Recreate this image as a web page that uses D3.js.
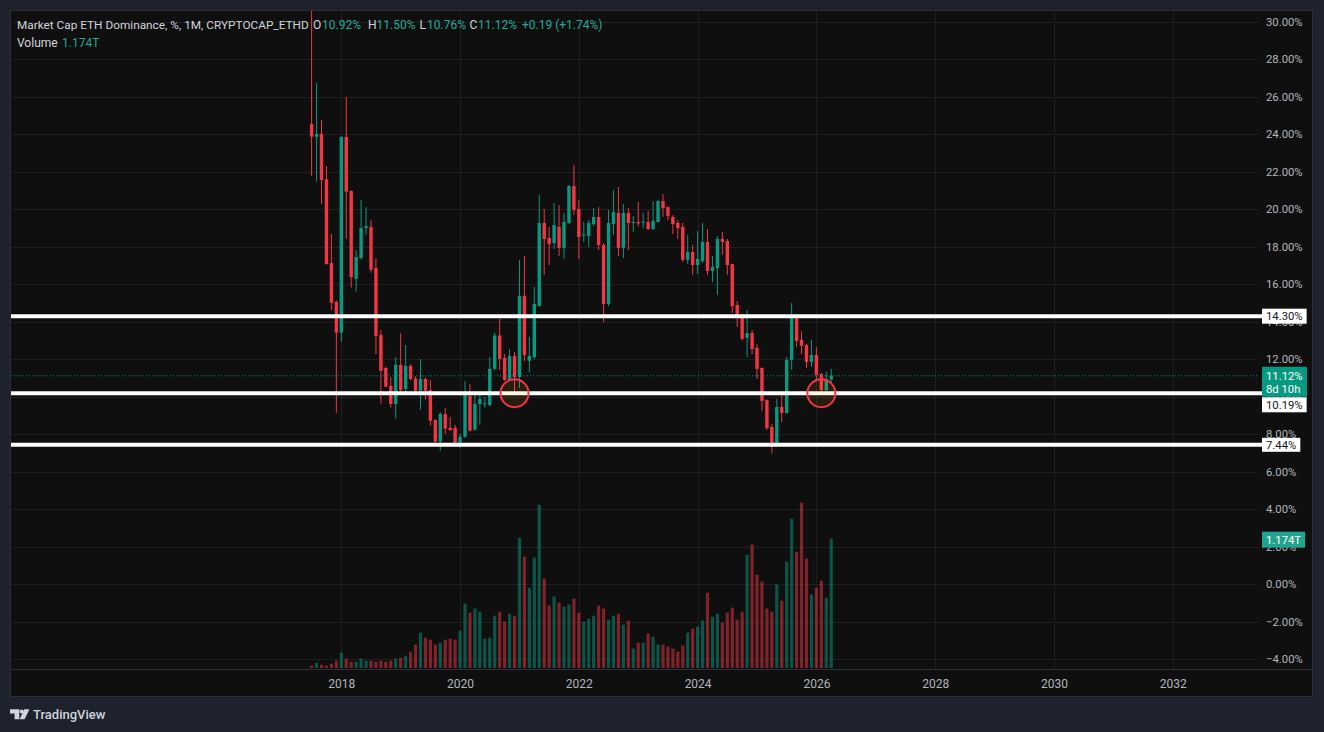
<!DOCTYPE html>
<html><head><meta charset="utf-8">
<script src="https://cdn.jsdelivr.net/npm/d3@7"></script>
<style>
html,body{margin:0;padding:0;background:#1e222d;overflow:hidden;}
svg{display:block;}
text{font-family:Roboto,"Noto Sans",Arial,sans-serif;}
</style></head><body>
<svg id="c" width="1324" height="732"></svg>
<script>
// ---- DATA ----
const months = [
 "2017-07","2017-08","2017-09","2017-10","2017-11","2017-12",
 "2018-01","2018-02","2018-03","2018-04","2018-05","2018-06","2018-07","2018-08","2018-09","2018-10","2018-11","2018-12",
 "2019-01","2019-02","2019-03","2019-04","2019-05","2019-06","2019-07","2019-08","2019-09","2019-10","2019-11","2019-12",
 "2020-01","2020-02","2020-03","2020-04","2020-05","2020-06","2020-07","2020-08","2020-09","2020-10","2020-11","2020-12",
 "2021-01","2021-02","2021-03","2021-04","2021-05","2021-06","2021-07","2021-08","2021-09","2021-10","2021-11","2021-12",
 "2022-01","2022-02","2022-03","2022-04","2022-05","2022-06","2022-07","2022-08","2022-09","2022-10","2022-11","2022-12",
 "2023-01","2023-02","2023-03","2023-04","2023-05","2023-06","2023-07","2023-08","2023-09","2023-10","2023-11","2023-12",
 "2024-01","2024-02","2024-03","2024-04","2024-05","2024-06","2024-07","2024-08","2024-09","2024-10","2024-11","2024-12",
 "2025-01","2025-02","2025-03","2025-04","2025-05","2025-06","2025-07","2025-08","2025-09","2025-10","2025-11","2025-12",
 "2026-01","2026-02","2026-03","2026-04"
];
const openV = [
 24.55,23.87,24.02,21.60,17.14,15.06,
 13.42,23.86,20.98,16.30,17.40,19.00,19.06,16.87,13.30,11.54,10.58,9.62,
 11.70,10.42,11.65,10.97,10.33,10.95,10.36,8.76,7.61,9.08,8.35,8.35,
 7.55,7.87,10.04,8.25,9.62,9.60,9.56,11.49,13.27,12.07,10.90,12.18,
 11.06,15.38,11.92,12.12,14.84,19.27,18.47,18.20,19.06,17.94,19.27,21.24,
 20.02,18.60,18.58,19.21,19.59,18.10,14.95,19.21,19.80,17.94,19.80,19.27,
 19.32,19.28,19.32,18.95,19.32,20.44,20.12,19.59,19.27,19.06,17.30,17.72,
 17.03,17.24,18.26,16.71,16.87,18.42,18.31,17.08,14.90,14.37,13.14,13.40,
 12.61,11.54,9.83,8.39,7.43,9.46,9.14,11.97,14.31,13.04,12.77,11.86,
 12.23,11.22,10.36,10.92
];
const highV = [
 30.80,26.74,24.76,22.31,18.68,15.13,
 23.90,25.99,21.00,17.83,20.50,20.12,19.43,17.40,13.56,11.60,11.06,12.12,
 13.39,12.76,11.75,11.10,12.01,11.03,10.90,8.80,9.19,9.40,8.92,8.51,
 8.03,10.84,10.69,10.20,10.20,9.99,12.12,13.42,14.15,12.28,12.54,12.39,
 17.30,17.51,13.20,15.86,20.76,20.02,19.06,20.34,20.23,19.80,21.30,22.37,
 20.50,19.32,19.43,20.07,20.12,18.20,19.96,21.03,21.19,20.28,20.07,19.64,
 20.39,19.80,19.91,20.44,20.50,20.82,20.15,19.70,19.43,19.27,18.63,18.10,
 18.84,19.27,18.95,17.51,18.58,18.79,18.42,17.10,15.11,14.42,14.63,13.56,
 12.80,11.56,9.86,8.55,9.88,10.15,12.12,15.00,14.35,13.50,12.80,13.04,
 12.66,11.28,11.33,11.50
];
const lowV = [
 21.79,21.47,20.28,17.05,14.63,9.15,
 12.94,18.42,15.82,15.61,17.33,18.65,16.62,12.28,9.63,10.50,9.42,8.83,
 10.22,10.22,10.90,10.10,9.31,9.85,8.46,7.50,7.12,8.03,8.19,7.34,
 7.29,7.80,8.14,8.19,8.51,9.42,9.50,11.44,11.44,10.85,10.85,10.10,
 10.47,11.91,11.30,12.00,14.80,16.50,17.03,17.88,17.51,17.35,19.20,19.70,
 17.35,18.26,17.99,19.10,17.83,13.99,14.84,18.63,17.51,17.40,17.83,18.79,
 19.10,19.00,18.90,18.90,19.30,19.59,19.43,18.68,18.42,17.20,17.08,16.50,
 16.55,17.14,16.50,16.12,15.43,17.56,16.50,14.47,13.72,13.00,12.12,12.28,
 10.95,9.24,8.23,6.99,7.40,8.65,9.10,11.44,12.66,12.28,11.54,11.60,
 10.90,10.15,10.31,10.76
];
const closeV = [
 23.87,24.02,21.56,17.08,15.02,13.42,
 23.86,20.94,16.39,17.45,19.00,19.10,16.78,13.24,11.39,10.54,9.62,11.70,
 10.36,11.65,10.95,10.33,10.95,10.33,8.73,7.61,9.08,8.30,8.22,7.55,
 7.87,10.10,8.20,9.62,9.88,9.65,11.49,13.27,12.02,10.90,12.18,11.06,
 15.38,12.22,12.18,14.95,19.27,18.42,18.15,19.16,17.94,19.32,21.24,19.96,
 18.52,18.65,19.27,19.59,18.10,14.95,19.27,19.86,17.94,19.80,19.27,19.32,
 19.25,19.34,18.95,19.38,20.44,20.07,19.64,19.21,19.00,17.30,17.72,17.03,
 17.35,18.26,16.71,16.92,18.42,18.26,17.03,14.84,14.31,13.09,13.40,12.55,
 11.49,9.78,8.33,7.43,9.46,9.14,11.97,14.31,12.98,12.72,11.86,12.23,
 11.17,10.36,10.93,11.12
];
// volume in trillions
const volumeT = [
 0.021,0.048,0.030,0.021,0.039,0.067,
 0.139,0.085,0.057,0.057,0.085,0.067,0.067,0.057,0.067,0.057,0.067,0.085,
 0.094,0.112,0.148,0.212,0.321,0.275,0.257,0.212,0.230,0.257,0.266,0.257,
 0.339,0.584,0.502,0.539,0.511,0.266,0.275,0.475,0.511,0.421,0.493,0.475,
 1.183,1.011,0.729,1.002,1.483,0.811,0.566,0.648,0.593,0.557,0.575,0.629,
 0.502,0.421,0.448,0.475,0.566,0.539,0.439,0.475,0.493,0.393,0.430,0.176,
 0.230,0.230,0.312,0.284,0.212,0.212,0.194,0.176,0.148,0.203,0.321,0.357,
 0.375,0.430,0.684,0.466,0.493,0.412,0.502,0.548,0.439,0.511,1.029,1.120,
 0.847,0.784,0.539,0.511,0.757,0.611,0.965,1.356,1.056,1.501,0.993,0.666,
 0.729,0.793,0.638,1.174
];
const yearTicks = ["2018","2020","2022","2024","2026","2028","2030","2032"];
const priceTicks = [-4,-2,0,2,4,6,8,10,12,14,16,18,20,22,24,26,28,30];
const levels = [14.30, 10.19, 7.44];
const circleMonths = ["2020-12","2026-02"];
const circlePrice = 10.19;
const lastPrice = 11.12;
const lastVolume = 1.174;

// ---- LAYOUT ----
const pane = {l:10, t:10, r:1313, b:697};
const plotR = 1258, axisY = 669;
const GREEN = "#089981", RED = "#f23645";

const svg = d3.select("#c");

const idx = m => { const [yy, mo] = m.split("-").map(Number); return (yy - 2017) * 12 + (mo - 7); };

const x = d3.scaleLinear().domain([idx("2018-01"), idx("2032-01")]).range([341.3, 1172.7]);
const y = d3.scaleLinear().domain([-4, 30]).range([659.3, 21.8]);
const yv = d3.scaleLinear().domain([0, lastVolume]).range([668, 538.7]);

const bars = months.map((m, i) => ({m, i: idx(m), o: openV[i], h: highV[i], l: lowV[i], c: closeV[i], v: volumeT[i]}));

// pane background
svg.append("rect").attr("x", pane.l + 0.5).attr("y", pane.t + 0.5)
  .attr("width", pane.r - pane.l - 1).attr("height", pane.b - pane.t - 1)
  .attr("fill", "#0f0f0f").attr("stroke", "#2a2e39");

svg.append("clipPath").attr("id", "plotclip").append("rect")
  .attr("x", pane.l + 1).attr("y", pane.t + 1).attr("width", plotR - pane.l - 1).attr("height", axisY - pane.t - 1);

// grid
const grid = svg.append("g");
grid.selectAll("line.h").data(priceTicks).join("line")
  .attr("x1", pane.l + 1).attr("x2", plotR)
  .attr("y1", d => Math.round(y(d)) + 0.5).attr("y2", d => Math.round(y(d)) + 0.5)
  .attr("stroke", "#1f1f1f").attr("stroke-width", 1);
grid.selectAll("line.v").data(yearTicks).join("line")
  .attr("y1", pane.t + 1).attr("y2", axisY)
  .attr("x1", d => Math.round(x(idx(d + "-01"))) + 0.5).attr("x2", d => Math.round(x(idx(d + "-01"))) + 0.5)
  .attr("stroke", "#1f1f1f").attr("stroke-width", 1);

// time axis separator
svg.append("line").attr("x1", pane.l + 1).attr("x2", pane.r - 1)
  .attr("y1", axisY + 0.5).attr("y2", axisY + 0.5).attr("stroke", "#2e313b");

const plot = svg.append("g").attr("clip-path", "url(#plotclip)");

// volume
plot.append("g").selectAll("rect").data(bars).join("rect")
  .attr("x", d => x(d.i) - 1.6).attr("width", 3.2)
  .attr("y", d => yv(d.v)).attr("height", d => yv(0) - yv(d.v))
  .attr("fill", d => d.c >= d.o ? "rgba(8,153,129,0.5)" : "rgba(242,54,69,0.5)");

// candles
const cg = plot.append("g");
cg.selectAll("line").data(bars).join("line")
  .attr("x1", d => x(d.i)).attr("x2", d => x(d.i))
  .attr("y1", d => y(d.h)).attr("y2", d => y(d.l))
  .attr("stroke", d => d.c >= d.o ? GREEN : RED).attr("stroke-width", 1);
cg.selectAll("rect").data(bars).join("rect")
  .attr("x", d => x(d.i) - 1.7).attr("width", 3.4)
  .attr("y", d => y(Math.max(d.o, d.c)))
  .attr("height", d => Math.max(1, Math.abs(y(d.o) - y(d.c))))
  .attr("fill", d => d.c >= d.o ? GREEN : RED);

// last price dotted line
svg.append("line").attr("x1", pane.l + 1).attr("x2", plotR)
  .attr("y1", y(lastPrice)).attr("y2", y(lastPrice))
  .attr("stroke", GREEN).attr("stroke-width", 1).attr("stroke-dasharray", "1 2");

// horizontal levels
svg.append("g").selectAll("line").data(levels).join("line")
  .attr("x1", pane.l + 1).attr("x2", 1263)
  .attr("y1", d => y(d)).attr("y2", d => y(d))
  .attr("stroke", "#ffffff").attr("stroke-width", 4);

// circles
svg.append("g").selectAll("circle").data(circleMonths).join("circle")
  .attr("cx", d => x(idx(d))).attr("cy", y(circlePrice)).attr("r", 14)
  .attr("fill", "rgba(255,152,0,0.1)").attr("stroke", RED).attr("stroke-width", 2);

// price axis
const fmt = d => (d < 0 ? "\u2212" : "") + Math.abs(d).toFixed(2) + "%";
const pa = svg.append("g").attr("transform", `translate(${plotR},0)`)
  .call(d3.axisRight(y).tickValues(priceTicks).tickSize(0).tickPadding(8).tickFormat(fmt));
pa.select(".domain").remove();
pa.selectAll("text").attr("fill", "#b2b5be").style("font-size", "11.3px")
  .style("font-family", "Roboto, 'Noto Sans', sans-serif");

// time axis
const ta = svg.append("g").attr("transform", `translate(0,${axisY})`)
  .call(d3.axisBottom(x).tickValues(yearTicks.map(t => idx(t + "-01"))).tickSize(0).tickPadding(10)
    .tickFormat((d, k) => yearTicks[k]));
ta.select(".domain").remove();
ta.selectAll("text").attr("fill", "#b2b5be").style("font-size", "12px")
  .style("font-family", "Roboto, 'Noto Sans', sans-serif");

// price labels
function label(txt, cy, bg, fg, h) {
  const g = svg.append("g");
  const r = g.append("rect").attr("x", 1262).attr("y", cy - h / 2).attr("height", h).attr("fill", bg);
  const t = g.append("text").attr("x", 1266).attr("y", cy).attr("dy", "0.36em")
    .attr("fill", fg).style("font-size", "11.3px").text(txt);
  const w = t.node().getComputedTextLength();
  r.attr("width", w + 8);
  return g;
}
label(fmt(levels[0]), y(levels[0]), "#ffffff", "#131722", 15);
label(fmt(levels[2]), y(levels[2]), "#ffffff", "#131722", 14);
const lp = svg.append("g");
lp.append("rect").attr("x", 1262).attr("y", y(lastPrice) - 9).attr("width", 45).attr("height", 30).attr("fill", GREEN);
lp.append("text").attr("x", 1266).attr("y", y(lastPrice)).attr("dy", "0.36em").attr("fill", "#ffffff")
  .style("font-size", "11.3px").text(fmt(lastPrice));
lp.append("text").attr("x", 1266).attr("y", y(lastPrice) + 13).attr("dy", "0.36em").attr("fill", "#ffffff")
  .style("font-size", "11.3px").text("8d 10h");
label(fmt(levels[1]), y(lastPrice) + 29, "#ffffff", "#131722", 15);
label(lastVolume.toFixed(3) + "T", yv(lastVolume) + 1, "#22a38e", "#ffffff", 16);

// legend
const lg = svg.append("g").style("font-size", "12px");
const title = lg.append("text").attr("x", 17).attr("y", 28.5).attr("fill", "#d1d4dc")
  .text("Market Cap ETH Dominance, %, 1M, CRYPTOCAP_ETHD");
const tw = title.node().getComputedTextLength();
if (tw > 292) title.style("font-size", (12 * 292 / tw).toFixed(2) + "px");
const last = bars[bars.length - 1];
const prev = bars[bars.length - 2];
const chg = last.c - prev.c;
const parts = [
  ["O", 313, "#d1d4dc"], [last.o.toFixed(2) + "%", 322, "#22ab94"],
  ["H", 368, "#d1d4dc"], [last.h.toFixed(2) + "%", 376.5, "#22ab94"],
  ["L", 419.5, "#d1d4dc"], [last.l.toFixed(2) + "%", 427, "#22ab94"],
  ["C", 469.5, "#d1d4dc"], [last.c.toFixed(2) + "%", 478, "#22ab94"],
  ["+" + chg.toFixed(2) + " (+" + (chg / prev.c * 100).toFixed(2) + "%)", 522, "#22ab94"]
];
lg.selectAll("text.p").data(parts).join("text").attr("class", "p")
  .attr("x", d => d[1]).attr("y", 28.5).attr("fill", d => d[2]).text(d => d[0]);
lg.append("text").attr("x", 17).attr("y", 46.5).attr("fill", "#d1d4dc").text("Volume");
lg.append("text").attr("x", 62).attr("y", 46.5).attr("fill", "#22ab94").text(lastVolume.toFixed(3) + "T");

// TradingView logo
const logo = svg.append("g").attr("fill", "#d1d4dc");
logo.append("path").attr("d", "M10,709.3 H19.3 V719.3 H14.6 V713.4 H10 Z");
logo.append("circle").attr("cx", 21.6).attr("cy", 711.4).attr("r", 2);
logo.append("path").attr("d", "M24.2,709.3 H29.5 L24.6,719.3 H19.6 Z");
svg.append("text").attr("x", 33).attr("y", 719).attr("fill", "#d1d4dc")
  .style("font-size", "13px").style("font-weight", "500").text("TradingView");
</script>
</body></html>
